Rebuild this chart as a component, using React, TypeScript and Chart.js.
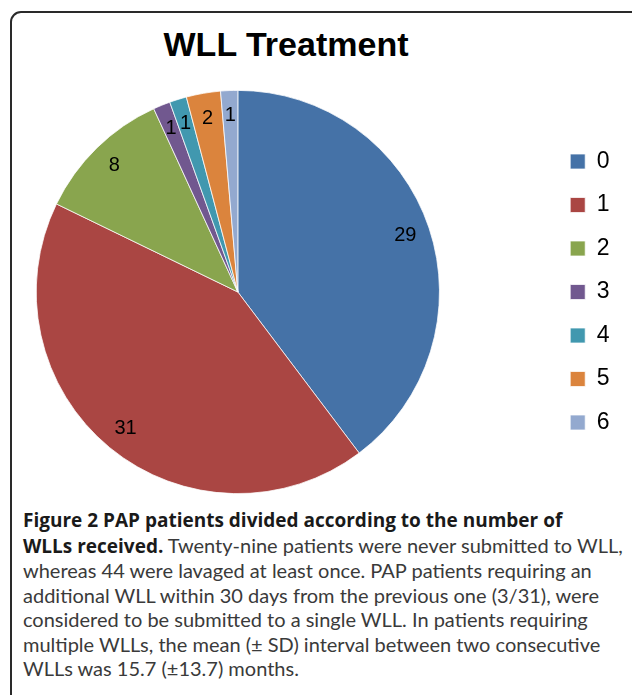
import React, { useEffect, useRef } from 'react';
import { Chart, registerables } from 'chart.js';

Chart.register(...registerables);

const chartTitle = 'WLL Treatment';
const categories = ['0', '1', '2', '3', '4', '5', '6'];
const patientCounts = [29, 31, 8, 1, 1, 2, 1];
const sliceColors = ['#4572A7', '#AA4643', '#89A54E', '#71588F', '#4198AF', '#DB843D', '#93A9CF'];

const sliceLabelPlugin = {
  id: 'sliceLabels',
  afterDatasetsDraw(chart: any) {
    const ctx = chart.ctx;
    const meta = chart.getDatasetMeta(0);
    ctx.save();
    ctx.font = '20px "Liberation Sans", Arial, sans-serif';
    ctx.fillStyle = '#000';
    ctx.textAlign = 'center';
    ctx.textBaseline = 'middle';
    meta.data.forEach((arc: any, i: number) => {
      const { x, y, startAngle, endAngle, outerRadius } = arc.getProps(
        ['x', 'y', 'startAngle', 'endAngle', 'outerRadius'],
        true
      );
      const mid = (startAngle + endAngle) / 2;
      const r = outerRadius * 0.876;
      ctx.fillText(String(patientCounts[i]), x + Math.cos(mid) * r, y + Math.sin(mid) * r);
    });
    ctx.restore();
  },
};

const CANVAS_SHIFT = 74;

export default function App() {
  const canvasRef = useRef<HTMLCanvasElement>(null);

  useEffect(() => {
    const chart = new Chart(canvasRef.current as HTMLCanvasElement, {
      type: 'pie',
      data: {
        labels: categories,
        datasets: [
          {
            data: patientCounts,
            backgroundColor: sliceColors,
            borderColor: '#ffffff',
            borderWidth: 0.75,
          },
        ],
      },
      options: {
        responsive: false,
        animation: false,
        layout: { padding: { left: 0, right: 12.5, top: 90, bottom: 6 } },
        plugins: {
          title: { display: false },
          tooltip: { enabled: false },
          legend: {
            display: true,
            position: 'right',
            align: 'center',
            labels: {
              boxWidth: 15,
              boxHeight: 15,
              padding: 20.5,
              color: '#000',
              font: { family: '"Liberation Sans", Arial, sans-serif', size: 23 },
            },
          },
        },
      },
      plugins: [sliceLabelPlugin],
    });
    return () => chart.destroy();
  }, []);

  const normal = { color: '#3a3a3a', fontWeight: 400 as const };
  const bold = {
    color: '#1a1a1a',
    fontWeight: 700 as const,
    fontFamily: '"Open Sans", Lato, sans-serif',
    fontSize: 19,
  };

  return (
    <div
      style={{
        position: 'fixed',
        left: 0,
        top: 0,
        width: 632,
        height: 695,
        overflow: 'hidden',
        background: '#fff',
      }}
    >
      <div
        style={{
          position: 'absolute',
          left: 10,
          top: 11,
          width: 720,
          height: 800,
          border: '2px solid #2a2a2a',
          borderRadius: 11,
          boxSizing: 'border-box',
        }}
      />
      <div
        style={{
          position: 'absolute',
          left: 0,
          top: 27,
          width: 572,
          textAlign: 'center',
          font: 'bold 34px "Liberation Sans", Arial, sans-serif',
          lineHeight: '34px',
          color: '#000',
        }}
      >
        {chartTitle}
      </div>
      <canvas
        ref={canvasRef}
        width={632 + CANVAS_SHIFT}
        height={500}
        style={{
          position: 'absolute',
          left: -CANVAS_SHIFT,
          top: 0,
          width: 632 + CANVAS_SHIFT,
          height: 500,
        }}
      />
      <div
        style={{
          position: 'absolute',
          left: 23,
          top: 507,
          whiteSpace: 'nowrap',
          fontFamily: 'Lato, "Open Sans", sans-serif',
          fontSize: 20,
          lineHeight: '24.5px',
        }}
      >
        <span style={bold}>Figure 2 PAP patients divided according to the number of</span>
        <br />
        <span style={bold}>WLLs received.</span>
        <span style={normal}> Twenty-nine patients were never submitted to WLL,</span>
        <br />
        <span style={normal}>whereas 44 were lavaged at least once. PAP patients requiring an</span>
        <br />
        <span style={normal}>additional WLL within 30 days from the previous one (3/31), were</span>
        <br />
        <span style={normal}>considered to be submitted to a single WLL. In patients requiring</span>
        <br />
        <span style={normal}>multiple WLLs, the mean (± SD) interval between two consecutive</span>
        <br />
        <span style={normal}>WLLs was 15.7 (±13.7) months.</span>
      </div>
    </div>
  );
}
